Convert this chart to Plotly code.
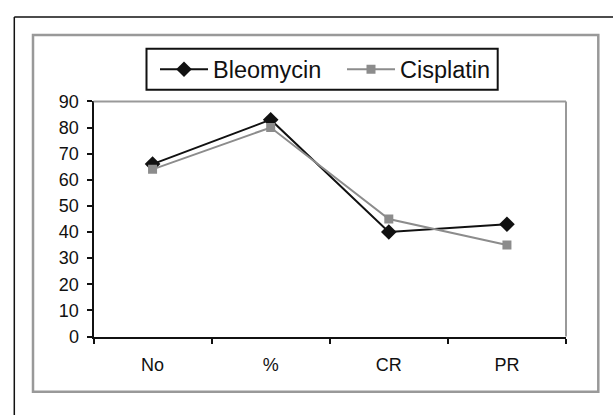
import plotly.graph_objects as go

# Response data for the two regimens
categories = ["No", "%", "CR", "PR"]
bleomycin = [66, 83, 40, 43]
cisplatin = [64, 80, 45, 35]
y_ticks = [0, 10, 20, 30, 40, 50, 60, 70, 80, 90]

W, H = 613, 417


def px(x):
    return x / W


def py(y):
    return 1 - y / H


fig = go.Figure()

fig.add_trace(go.Scatter(
    x=categories, y=bleomycin, name="Bleomycin", mode="lines+markers",
    line=dict(color="#111111", width=2),
    marker=dict(symbol="diamond", size=12, color="#111111"),
    legendwidth=124,
))
fig.add_trace(go.Scatter(
    x=categories, y=cisplatin, name="Cisplatin", mode="lines+markers",
    line=dict(color="#8c8c8c", width=2),
    marker=dict(symbol="square", size=9, color="#8c8c8c"),
))

font = "Liberation Sans, Arial, sans-serif"

fig.update_layout(
    width=W, height=H,
    margin=dict(l=0, r=0, t=0, b=0),
    paper_bgcolor="white", plot_bgcolor="white",
    showlegend=True,
    font=dict(family=font, color="#111111"),
    xaxis=dict(
        domain=[px(93.5), px(566)],
        type="category",
        range=[-0.5, 3.5],
        tickson="boundaries",
        ticks="outside", ticklen=5, tickwidth=1.5, tickcolor="#111111",
        showline=True, linecolor="#111111", linewidth=2,
        showgrid=False, zeroline=False,
        tickfont=dict(family=font, size=18, color="#111111"),
        ticklabelstandoff=11,
        fixedrange=True,
    ),
    yaxis=dict(
        domain=[py(343), py(96)],
        range=[0, 90],
        tickvals=y_ticks,
        ticks="outside", ticklen=5, tickwidth=1.5, tickcolor="#111111",
        showline=True, linecolor="#111111", linewidth=2,
        showgrid=False, zeroline=False,
        tickfont=dict(family=font, size=18, color="#111111"),
        ticklabelstandoff=4,
        fixedrange=True,
    ),
    legend=dict(
        orientation="h",
        x=px(155), y=py(62.5), xanchor="left", yanchor="middle",
        bgcolor="rgba(0,0,0,0)", borderwidth=0,
        font=dict(family=font, size=23.5, color="#111111"),
        itemwidth=48, tracegroupgap=0,
    ),
    shapes=[
        # outer black rule (top and left)
        dict(type="line", xref="paper", yref="paper",
             x0=px(14.3), x1=1.01, y0=py(7.3), y1=py(7.3),
             line=dict(color="#111111", width=1.5)),
        dict(type="line", xref="paper", yref="paper",
             x0=px(14.3), x1=px(14.3), y0=py(7.3), y1=-0.02,
             line=dict(color="#111111", width=1.5)),
        # gray chart frame
        dict(type="rect", xref="paper", yref="paper",
             x0=px(33), x1=px(598.3), y0=py(401), y1=py(26.3),
             line=dict(color="#999999", width=2.5)),
        # legend box
        dict(type="rect", xref="paper", yref="paper",
             x0=px(146.5), x1=px(497.7), y0=py(83.7), y1=py(40.7),
             line=dict(color="#111111", width=2)),
        # gray plot-area border (top and right)
        dict(type="line", xref="paper", yref="paper",
             x0=px(93.5), x1=px(566), y0=py(96), y1=py(96),
             line=dict(color="#999999", width=2)),
        dict(type="line", xref="paper", yref="paper",
             x0=px(566), x1=px(566), y0=py(96), y1=py(343),
             line=dict(color="#999999", width=2)),
    ],
)

fig.write_html("out.html")
